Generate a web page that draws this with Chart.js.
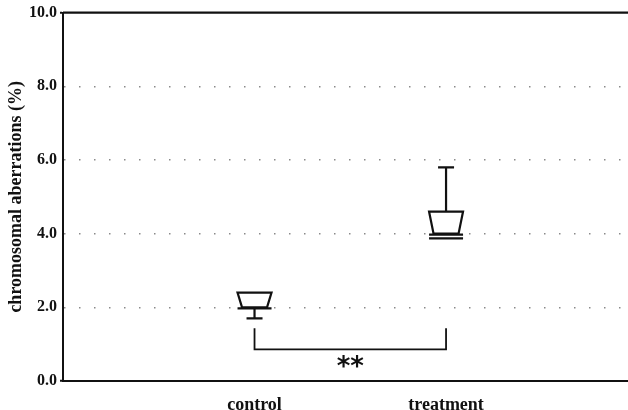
<!DOCTYPE html>
<html>
<head>
<meta charset="utf-8">
<script src="https://cdn.jsdelivr.net/npm/chart.js@4.4.1/dist/chart.umd.min.js"></script>
<style>
  html, body { margin: 0; padding: 0; background: #fff; }
  #wrap { width: 628px; height: 410px; position: relative; }
</style>
</head>
<body>
<div id="wrap"><canvas id="chart"></canvas></div>
<script>
// --- data ---
const groups = ['control', 'treatment'];
const groupPos = [1, 2];
const whiskerHigh = [2.4, 5.8];
const upperQ = [2.4, 4.6];
const medians = [2.0, 4.0];
const lowerQ = [2.0, 3.9];
const whiskerLow = [1.7, 3.9];
const yTicks = [0, 2, 4, 6, 8, 10];
const sigBracket = [0.86, 1.43];   // bar level, leg top
const sigLabel = '**';

const serif = '"Liberation Serif", "DejaVu Serif", serif';

// draws the notched boxes, whiskers, frame top and the significance bracket
const boxPlugin = {
    id: 'boxes',
    afterDatasetsDraw(chart) {
        const { ctx, chartArea, scales: { x, y } } = chart;
        ctx.save();
        ctx.strokeStyle = '#111';
        ctx.lineWidth = 2.2;
        ctx.lineJoin = 'miter';

        // top frame line
        ctx.beginPath();
        ctx.moveTo(chartArea.left, chartArea.top);
        ctx.lineTo(chartArea.right, chartArea.top);
        ctx.stroke();

        const half = 17, notch = 12.5, cap = 8;
        groups.forEach((g, i) => {
            const cx = x.getPixelForValue(groupPos[i]);
            const yHi = y.getPixelForValue(whiskerHigh[i]);
            const yQ3 = y.getPixelForValue(upperQ[i]);
            const yMed = y.getPixelForValue(medians[i]);
            const yQ1 = y.getPixelForValue(lowerQ[i]);
            const yLo = y.getPixelForValue(whiskerLow[i]);

            ctx.beginPath();
            // upper whisker
            if (yHi < yQ3 - 1) {
                ctx.moveTo(cx, yQ3);
                ctx.lineTo(cx, yHi);
                ctx.moveTo(cx - cap, yHi);
                ctx.lineTo(cx + cap, yHi);
            }
            // notched body
            ctx.moveTo(cx - half, yQ3);
            ctx.lineTo(cx + half, yQ3);
            ctx.lineTo(cx + notch, yMed);
            ctx.lineTo(cx - notch, yMed);
            ctx.closePath();
            // median and lower quartile lines
            ctx.moveTo(cx - half, yMed + 1);
            ctx.lineTo(cx + half, yMed + 1);
            ctx.moveTo(cx - half, yQ1 + 1);
            ctx.lineTo(cx + half, yQ1 + 1);
            // lower whisker
            if (yLo > yQ1 + 1) {
                ctx.moveTo(cx, yQ1);
                ctx.lineTo(cx, yLo);
                ctx.moveTo(cx - cap, yLo);
                ctx.lineTo(cx + cap, yLo);
            }
            ctx.stroke();
        });

        // significance bracket
        const xa = x.getPixelForValue(groupPos[0]);
        const xb = x.getPixelForValue(groupPos[1]);
        const yBar = y.getPixelForValue(sigBracket[0]);
        const yLeg = y.getPixelForValue(sigBracket[1]);
        ctx.lineWidth = 1.8;
        ctx.beginPath();
        ctx.moveTo(xa, yLeg);
        ctx.lineTo(xa, yBar);
        ctx.lineTo(xb, yBar);
        ctx.lineTo(xb, yLeg);
        ctx.stroke();

        ctx.fillStyle = '#111';
        ctx.font = 'bold 26px "DejaVu Sans", sans-serif';
        ctx.textAlign = 'center';
        ctx.textBaseline = 'middle';
        ctx.fillText(sigLabel, (xa + xb) / 2, yBar + 19);
        ctx.restore();
    }
};

new Chart(document.getElementById('chart'), {
    type: 'scatter',
    data: {
        datasets: [{
            data: groups.map((g, i) => ({ x: groupPos[i], y: medians[i] })),
            pointRadius: 0,
            showLine: false
        }]
    },
    options: {
        responsive: true,
        maintainAspectRatio: false,
        animation: false,
        events: [],
        layout: { padding: { top: 11, right: 0, left: 0, bottom: 0 } },
        plugins: {
            legend: { display: false },
            tooltip: { enabled: false }
        },
        scales: {
            x: {
                type: 'linear',
                min: 0,
                max: 2.95,
                afterBuildTicks: (scale) => {
                    scale.ticks = groupPos.map(v => ({ value: v }));
                },
                afterFit: (scale) => { scale.height = 29; },
                grid: { display: false },
                border: { display: true, color: '#111', width: 2 },
                ticks: {
                    color: '#111',
                    padding: 6,
                    maxRotation: 0,
                    font: { family: serif, size: 18, weight: 'bold' },
                    callback: (v) => groups[groupPos.indexOf(v)] || ''
                }
            },
            y: {
                min: 0,
                max: 10,
                afterBuildTicks: (scale) => {
                    scale.ticks = yTicks.map(v => ({ value: v }));
                },
                afterFit: (scale) => { scale.width = 63; },
                grid: {
                    color: (c) => (c.tick && (c.tick.value === 0 || c.tick.value === 10)) ? 'rgba(0,0,0,0)' : '#8a8a8a',
                    lineWidth: 1.5,
                    drawTicks: true,
                    tickLength: 3,
                    tickColor: (c) => (c.tick && (c.tick.value === 0 || c.tick.value === 10)) ? '#111' : 'rgba(0,0,0,0)',
                    tickWidth: 2
                },
                border: { display: true, color: '#111', width: 2, dash: [1.5, 13.5] },
                ticks: {
                    color: '#111',
                    padding: 3,
                    font: { family: serif, size: 16, weight: 'bold' },
                    callback: (v) => v.toFixed(1)
                },
                title: {
                    display: true,
                    text: 'chromosomal aberrations (%)',
                    color: '#111',
                    padding: { top: 6, bottom: 0 },
                    font: { family: serif, size: 18, weight: 'bold' }
                }
            }
        }
    },
    plugins: [boxPlugin]
});
</script>
</body>
</html>
